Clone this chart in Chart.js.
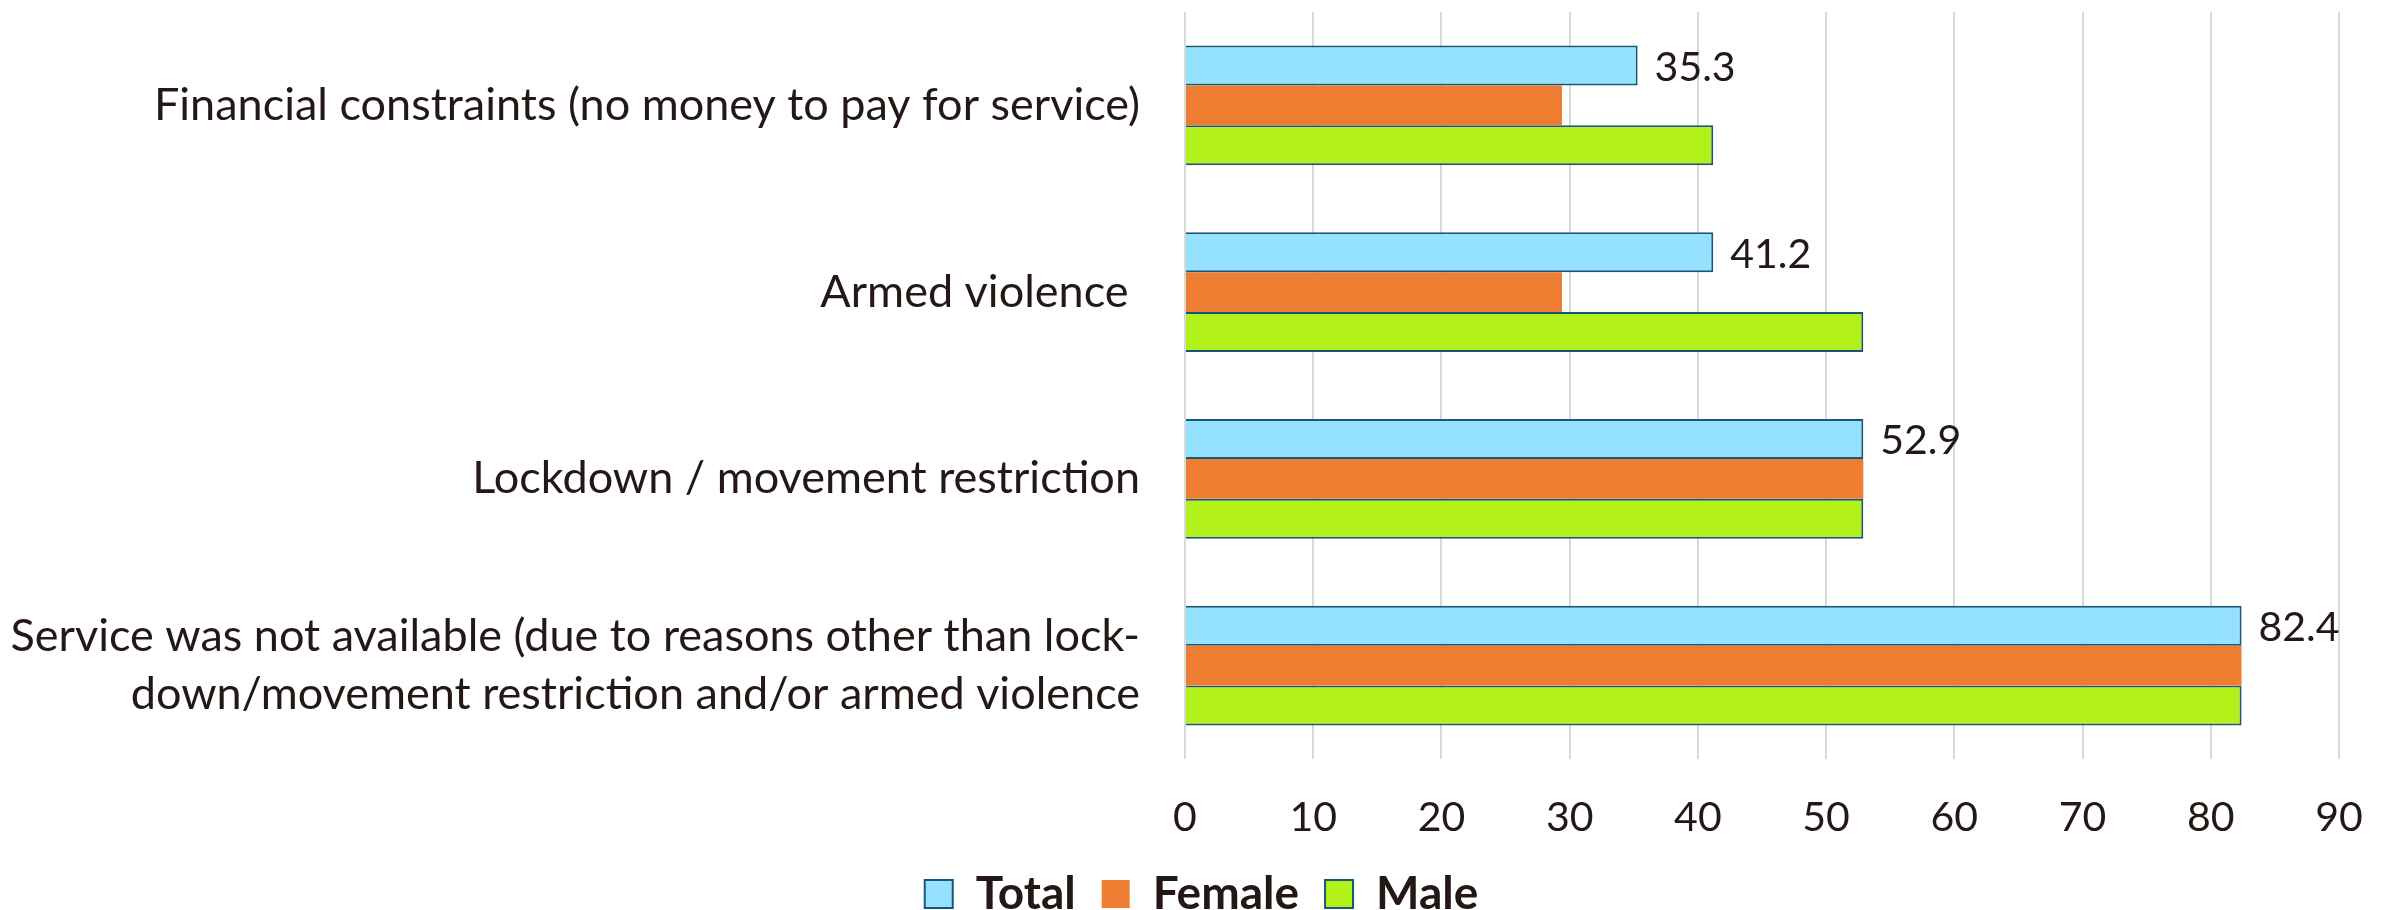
<!DOCTYPE html>
<html>
<head>
<meta charset="utf-8">
<script src="https://cdn.jsdelivr.net/npm/chart.js@4/dist/chart.umd.min.js"></script>
<style>
  html, body { margin: 0; padding: 0; background: #ffffff; }
  #wrap { width: 2389px; height: 910px; }
</style>
</head>
<body>
<div id="wrap"><canvas id="chart" width="2389" height="910"></canvas></div>
<script>
// dados
const categories = [
  "Financial constraints (no money to pay for service)",
  "Armed violence ",
  "Lockdown / movement restriction",
  ["Service was not available (due to reasons other than lock-", "down/movement restriction and/or armed violence"]
];
const totalValues = [35.3, 41.2, 52.9, 82.4];
const femaleValues = [29.4, 29.4, 52.9, 82.4];
const maleValues = [41.2, 52.9, 52.9, 82.4];
const xTicks = [0, 10, 20, 30, 40, 50, 60, 70, 80, 90];

const FONT = "Lato, 'Open Sans', sans-serif";
const TEXT = "#231815";
const EDGE = "#17577A";

// rotulos so na serie Total
const totalLabels = {
  id: "totalLabels",
  afterDatasetsDraw(chart) {
    const ctx = chart.ctx;
    const meta = chart.getDatasetMeta(0);
    ctx.save();
    ctx.font = "41px " + FONT;
    ctx.fillStyle = TEXT;
    ctx.textAlign = "left";
    ctx.textBaseline = "middle";
    meta.data.forEach((bar, i) => {
      ctx.fillText(totalValues[i].toFixed(1), bar.x + 17, bar.y + 2);
    });
    ctx.restore();
  }
};

// legenda centrada na largura toda do canvas
const legendCenter = {
  id: "legendCenter",
  afterLayout(chart) {
    const lg = chart.legend;
    if (!lg) return;
    const shift = chart.width / 2 - (lg.left + lg.right) / 2 + 7;
    lg.left += shift;
    lg.right += shift;
  }
};

new Chart(document.getElementById("chart"), {
  type: "bar",
  data: {
    labels: categories,
    datasets: [
      { label: "Total", data: totalValues, backgroundColor: "#94E2FF", borderColor: EDGE, borderWidth: 2 },
      { label: "Female", data: femaleValues, backgroundColor: "#ED7D31", borderColor: "#ED7D31", borderWidth: 0 },
      { label: "Male", data: maleValues, backgroundColor: "#B2F21A", borderColor: EDGE, borderWidth: 2 }
    ]
  },
  options: {
    indexAxis: "y",
    responsive: false,
    animation: false,
    layout: { padding: { top: 12, right: 50, bottom: -17, left: 0 } },
    datasets: { bar: { categoryPercentage: 0.64, barPercentage: 1.0 } },
    scales: {
      x: {
        min: 0,
        max: 90,
        afterBuildTicks(scale) { scale.ticks = xTicks.map(v => ({ value: v })); },
        afterFit(scale) {
          scale.height = 86;
          scale.paddingLeft = 0;
          scale.paddingRight = 0;
        },
        border: { display: false },
        grid: { color: "#D9D9D9", lineWidth: 2, drawTicks: false },
        ticks: { color: TEXT, font: { family: FONT, size: 41 }, padding: 34 }
      },
      y: {
        afterFit(scale) {
          scale.width = 1185;
          scale.paddingTop = 0;
          scale.paddingBottom = 0;
        },
        border: { display: false },
        grid: { display: false, drawTicks: false },
        ticks: { color: TEXT, font: { family: FONT, size: 45, lineHeight: 1.3 }, padding: 45 }
      }
    },
    plugins: {
      legend: {
        position: "bottom",
        labels: {
          color: TEXT,
          font: { family: FONT, size: 46, weight: "bold" },
          boxWidth: 28,
          boxHeight: 28,
          padding: 26
        }
      },
      tooltip: { enabled: false }
    }
  },
  plugins: [totalLabels, legendCenter]
});
</script>
</body>
</html>
